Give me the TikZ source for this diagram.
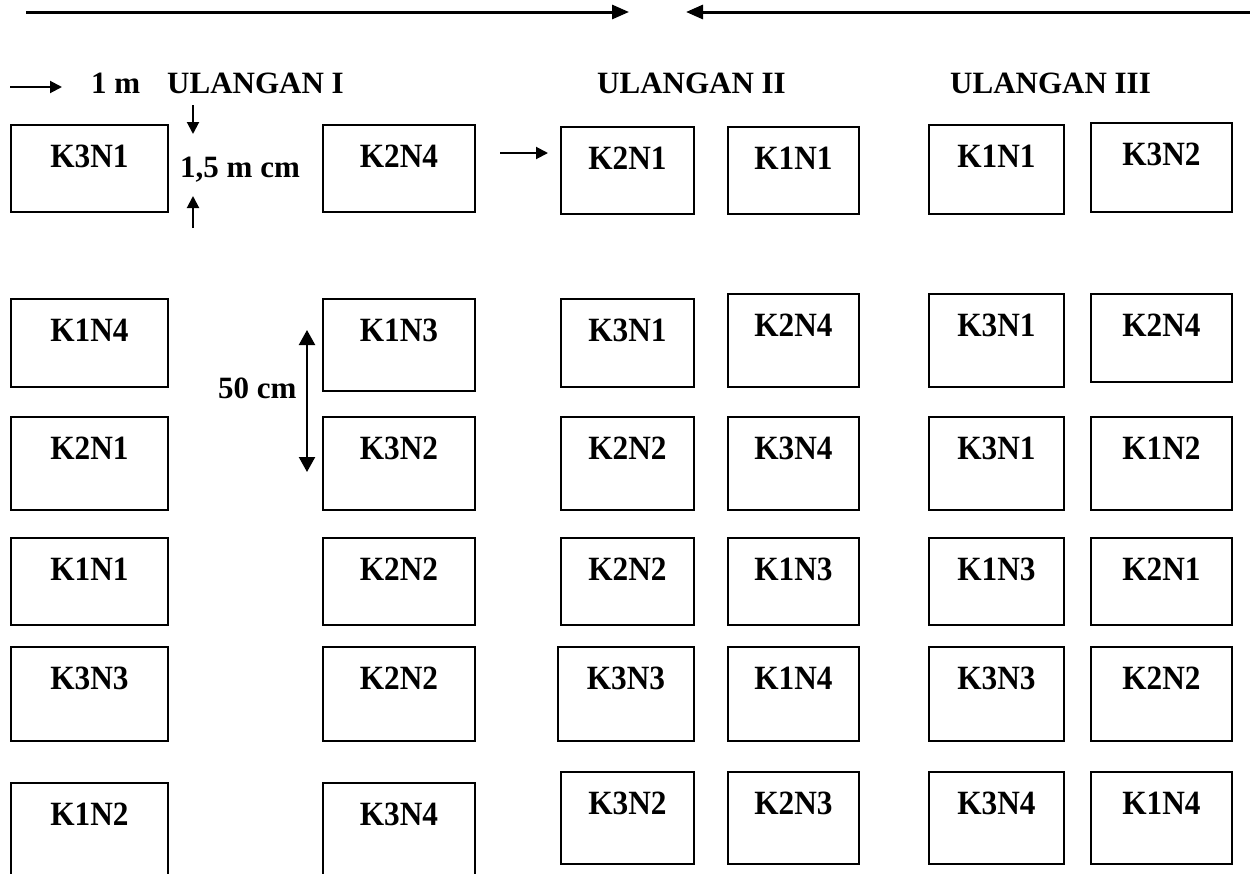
\documentclass[tikz,border=0pt]{standalone}
\usepackage{fontspec}
\usepackage{graphicx}
\setmainfont{Liberation Serif}
\usetikzlibrary{arrows.meta}
\tikzset{
  plotbox/.style={draw=black, line width=1.8pt, inner sep=0pt, anchor=north west},
  lbl/.style={font=\fontsize{34}{40}\selectfont\bfseries, inner sep=0pt, anchor=base},
  txt/.style={font=\fontsize{31}{36}\selectfont\bfseries, inner sep=0pt, anchor=base west},
  toparrow/.style={line width=3pt, -{Triangle[length=17pt,width=14pt]}},
  smallarrow/.style={line width=2pt, -{Triangle[length=12pt,width=12pt]}},
  dimarrow/.style={line width=2.2pt, {Triangle[length=15pt,width=16pt]}-{Triangle[length=15pt,width=16pt]}}
}
% \plotcell{name}{x1}{y1}{x2}{y2}{label}
\newcommand{\plotcell}[6]{%
  \node[plotbox, minimum width=#4pt-#2pt, minimum height=#5pt-#3pt] (#1) at (#2,#3) {};
  \node[lbl] (#1t) at ([yshift=-43pt]#1.north) {\scalebox{0.92}[1]{#6}};
}
\begin{document}
\begin{tikzpicture}[x=1pt,y=-1pt]
\useasboundingbox (0,0) rectangle (1250,873);
% top arrows
\coordinate (t1s) at (26,12);
\coordinate (t1e) at (629,12);
\coordinate (t2s) at (1250,12);
\coordinate (t2e) at (686,12);
\draw[toparrow] (t1s) -- (t1e);
\draw[toparrow] (t2s) -- (t2e);
% headers
\coordinate (m1s) at (10,87);
\coordinate (m1e) at (62,87);
\draw[smallarrow] (m1s) -- (m1e);
\node[txt] (onem) at (91,93) {1 m};
\node[txt] (u1) at (167,93) {ULANGAN I};
\node[txt] (u2) at (597,93) {ULANGAN II};
\node[txt] (u3) at (950,93) {ULANGAN III};
% row 1
\plotcell{a1}{10}{124}{167}{211}{K3N1}
\plotcell{b1}{322}{124}{474}{211}{K2N4}
\plotcell{c1}{560}{126}{693}{213}{K2N1}
\plotcell{d1}{727}{126}{858}{213}{K1N1}
\plotcell{e1}{928}{124}{1063}{213}{K1N1}
\plotcell{f1}{1090}{122}{1231}{211}{K3N2}
% row 2
\plotcell{a2}{10}{298}{167}{386}{K1N4}
\plotcell{b2}{322}{298}{474}{390}{K1N3}
\plotcell{c2}{560}{298}{693}{386}{K3N1}
\plotcell{d2}{727}{293}{858}{386}{K2N4}
\plotcell{e2}{928}{293}{1063}{386}{K3N1}
\plotcell{f2}{1090}{293}{1231}{381}{K2N4}
% row 3
\plotcell{a3}{10}{416}{167}{509}{K2N1}
\plotcell{b3}{322}{416}{474}{509}{K3N2}
\plotcell{c3}{560}{416}{693}{509}{K2N2}
\plotcell{d3}{727}{416}{858}{509}{K3N4}
\plotcell{e3}{928}{416}{1063}{509}{K3N1}
\plotcell{f3}{1090}{416}{1231}{509}{K1N2}
% row 4
\plotcell{a4}{10}{537}{167}{624}{K1N1}
\plotcell{b4}{322}{537}{474}{624}{K2N2}
\plotcell{c4}{560}{537}{693}{624}{K2N2}
\plotcell{d4}{727}{537}{858}{624}{K1N3}
\plotcell{e4}{928}{537}{1063}{624}{K1N3}
\plotcell{f4}{1090}{537}{1231}{624}{K2N1}
% row 5
\plotcell{a5}{10}{646}{167}{740}{K3N3}
\plotcell{b5}{322}{646}{474}{740}{K2N2}
\plotcell{c5}{557}{646}{693}{740}{K3N3}
\plotcell{d5}{727}{646}{858}{740}{K1N4}
\plotcell{e5}{928}{646}{1063}{740}{K3N3}
\plotcell{f5}{1090}{646}{1231}{740}{K2N2}
% row 6
\plotcell{a6}{10}{782}{167}{885}{K1N2}
\plotcell{b6}{322}{782}{474}{885}{K3N4}
\plotcell{c6}{560}{771}{693}{863}{K3N2}
\plotcell{d6}{727}{771}{858}{863}{K2N3}
\plotcell{e6}{928}{771}{1063}{863}{K3N4}
\plotcell{f6}{1090}{771}{1231}{863}{K1N4}
% arrow into K2N1
\coordinate (k2s) at (500,153);
\coordinate (k2e) at (548,153);
\draw[smallarrow] (k2s) -- (k2e);
% 1,5 m cm
\coordinate (d1s) at (193,105);
\coordinate (d1e) at (193,134);
\coordinate (d2s) at (193,228);
\coordinate (d2e) at (193,196);
\draw[smallarrow] (d1s) -- (d1e);
\draw[smallarrow] (d2s) -- (d2e);
\node[txt] (onefive) at (180,177) {1,5 m cm};
% 50 cm
\coordinate (v1) at (307,330);
\coordinate (v2) at (307,472);
\draw[dimarrow] (v1) -- (v2);
\node[txt] (fifty) at (218,398) {50 cm};
\end{tikzpicture}
\end{document}
